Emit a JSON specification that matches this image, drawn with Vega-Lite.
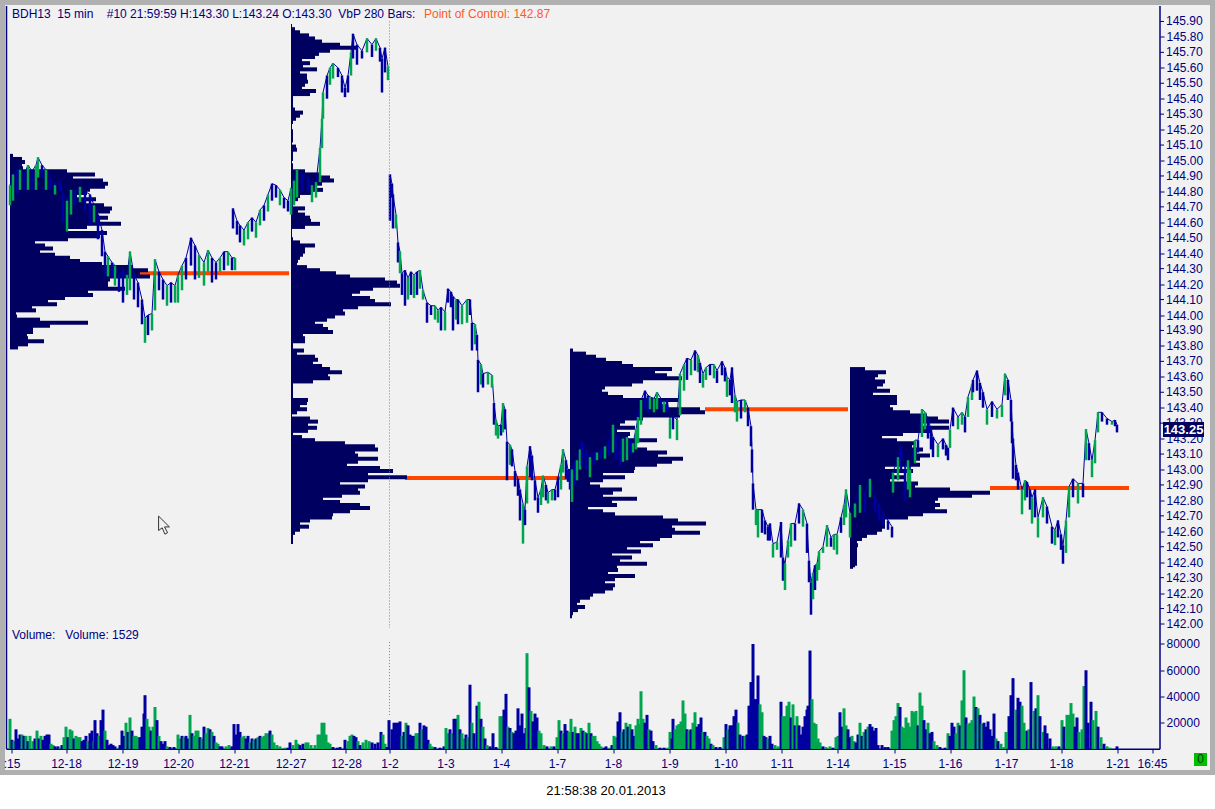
{
"$schema":"https://vega.github.io/schema/vega-lite/v6.json",
"width":1210,"height":770,"autosize":"none",
"padding":{"left":2.5,"top":2.5,"right":2.5,"bottom":36.5},
"background":"white",
"config":{"view":{"fill":"#f1f1f1","stroke":"#b0b0b0","strokeWidth":5},"text":{"font":"Liberation Sans","fontSize":12},"axis":{"labelOverlap":false}},
"datasets":{
"oddTicks":[{"p":142.1},{"p":142.3},{"p":142.5},{"p":142.7},{"p":142.9},{"p":143.1},{"p":143.3},{"p":143.5},{"p":143.7},{"p":143.9},{"p":144.1},{"p":144.3},{"p":144.5},{"p":144.7},{"p":144.9},{"p":145.1},{"p":145.3},{"p":145.5},{"p":145.7},{"p":145.9}],
"poc":[{"s":140,"e":289,"p":144.27},{"s":405,"e":568,"p":142.945},{"s":705,"e":848,"p":143.39},{"s":990,"e":1129,"p":142.88}],
"profile":[
{"s":10,"e":13,"p":145.03},{"s":10,"e":22,"p":145.01},{"s":10,"e":25,"p":144.99},{"s":10,"e":22,"p":144.97},{"s":10,"e":23,"p":144.95},{"s":10,"e":67,"p":144.93},{"s":10,"e":95,"p":144.91},{"s":10,"e":73,"p":144.89},{"s":10,"e":103,"p":144.87},{"s":10,"e":108,"p":144.85},{"s":10,"e":105,"p":144.83},{"s":10,"e":90,"p":144.81},{"s":10,"e":87,"p":144.79},{"s":10,"e":77,"p":144.77},{"s":10,"e":96,"p":144.75},{"s":10,"e":85,"p":144.73},{"s":10,"e":104,"p":144.71},{"s":10,"e":112,"p":144.69},{"s":10,"e":110,"p":144.67},{"s":10,"e":98,"p":144.65},{"s":10,"e":108,"p":144.63},{"s":10,"e":100,"p":144.61},{"s":10,"e":121,"p":144.59},{"s":10,"e":87,"p":144.57},{"s":10,"e":68,"p":144.55},{"s":10,"e":107,"p":144.53},{"s":10,"e":100,"p":144.51},{"s":10,"e":68,"p":144.49},{"s":10,"e":35,"p":144.47},{"s":10,"e":45,"p":144.45},{"s":10,"e":53,"p":144.43},{"s":10,"e":40,"p":144.41},{"s":10,"e":55,"p":144.39},{"s":10,"e":70,"p":144.37},{"s":10,"e":80,"p":144.35},{"s":10,"e":102,"p":144.33},{"s":10,"e":133,"p":144.31},{"s":10,"e":148,"p":144.29},{"s":10,"e":140,"p":144.27},{"s":10,"e":150,"p":144.25},{"s":10,"e":110,"p":144.23},{"s":10,"e":108,"p":144.21},{"s":10,"e":108,"p":144.19},{"s":10,"e":125,"p":144.17},{"s":10,"e":88,"p":144.15},{"s":10,"e":93,"p":144.13},{"s":10,"e":65,"p":144.11},{"s":10,"e":48,"p":144.09},{"s":10,"e":57,"p":144.07},{"s":10,"e":32,"p":144.05},{"s":10,"e":36,"p":144.03},{"s":10,"e":16,"p":144.01},{"s":10,"e":17,"p":143.99},{"s":10,"e":40,"p":143.97},{"s":10,"e":88,"p":143.95},{"s":10,"e":50,"p":143.93},{"s":10,"e":33,"p":143.91},{"s":10,"e":33,"p":143.89},{"s":10,"e":27,"p":143.87},{"s":10,"e":28,"p":143.85},{"s":10,"e":44,"p":143.83},{"s":10,"e":28,"p":143.81},{"s":10,"e":18,"p":143.79},
{"s":291,"e":292,"p":145.87},{"s":291,"e":295,"p":145.85},{"s":291,"e":300,"p":145.83},{"s":291,"e":309,"p":145.81},{"s":291,"e":315,"p":145.79},{"s":291,"e":322,"p":145.77},{"s":291,"e":340,"p":145.75},{"s":291,"e":357,"p":145.73},{"s":291,"e":330,"p":145.71},{"s":291,"e":319,"p":145.69},{"s":291,"e":315,"p":145.67},{"s":291,"e":302,"p":145.65},{"s":291,"e":310,"p":145.63},{"s":291,"e":303,"p":145.61},{"s":291,"e":317,"p":145.59},{"s":291,"e":300,"p":145.57},{"s":291,"e":307,"p":145.55},{"s":291,"e":307,"p":145.53},{"s":291,"e":308,"p":145.51},{"s":291,"e":305,"p":145.49},{"s":291,"e":302,"p":145.47},{"s":291,"e":316,"p":145.45},{"s":291,"e":310,"p":145.43},{"s":291,"e":293,"p":145.41},{"s":291,"e":293,"p":145.39},{"s":291,"e":293,"p":145.37},{"s":291,"e":293,"p":145.35},{"s":291,"e":295,"p":145.33},{"s":291,"e":303,"p":145.31},{"s":291,"e":300,"p":145.29},{"s":291,"e":296,"p":145.27},{"s":291,"e":293,"p":145.25},{"s":291,"e":292,"p":145.23},{"s":291,"e":292,"p":145.21},{"s":291,"e":293,"p":145.19},{"s":291,"e":293,"p":145.17},{"s":291,"e":293,"p":145.15},{"s":291,"e":293,"p":145.13},{"s":291,"e":292,"p":145.11},{"s":291,"e":296,"p":145.09},{"s":291,"e":297,"p":145.07},{"s":291,"e":293,"p":145.05},{"s":291,"e":293,"p":145.03},{"s":291,"e":293,"p":145.01},{"s":291,"e":292,"p":144.99},{"s":291,"e":293,"p":144.97},{"s":291,"e":293,"p":144.95},{"s":291,"e":305,"p":144.93},{"s":291,"e":320,"p":144.91},{"s":291,"e":330,"p":144.89},{"s":291,"e":334,"p":144.87},{"s":291,"e":322,"p":144.85},{"s":291,"e":315,"p":144.83},{"s":291,"e":323,"p":144.81},{"s":291,"e":312,"p":144.79},{"s":291,"e":300,"p":144.77},{"s":291,"e":298,"p":144.75},{"s":291,"e":293,"p":144.73},{"s":291,"e":293,"p":144.71},{"s":291,"e":305,"p":144.69},{"s":291,"e":298,"p":144.67},{"s":291,"e":305,"p":144.65},{"s":291,"e":310,"p":144.63},{"s":291,"e":311,"p":144.61},{"s":291,"e":320,"p":144.59},{"s":291,"e":305,"p":144.57},{"s":291,"e":292,"p":144.55},{"s":291,"e":292,"p":144.53},{"s":291,"e":292,"p":144.51},{"s":291,"e":293,"p":144.49},{"s":291,"e":300,"p":144.47},{"s":291,"e":315,"p":144.45},{"s":291,"e":305,"p":144.43},{"s":291,"e":305,"p":144.41},{"s":291,"e":303,"p":144.39},{"s":291,"e":300,"p":144.37},{"s":291,"e":298,"p":144.35},{"s":291,"e":297,"p":144.33},{"s":291,"e":307,"p":144.31},{"s":291,"e":320,"p":144.29},{"s":291,"e":336,"p":144.27},{"s":291,"e":350,"p":144.25},{"s":291,"e":385,"p":144.23},{"s":291,"e":397,"p":144.21},
{"s":291,"e":400,"p":144.19},{"s":291,"e":373,"p":144.17},{"s":291,"e":360,"p":144.15},{"s":291,"e":352,"p":144.13},{"s":291,"e":370,"p":144.11},{"s":291,"e":375,"p":144.09},{"s":291,"e":391,"p":144.07},{"s":291,"e":358,"p":144.05},{"s":291,"e":343,"p":144.03},{"s":291,"e":345,"p":144.01},{"s":291,"e":335,"p":143.99},{"s":291,"e":327,"p":143.97},{"s":291,"e":315,"p":143.95},{"s":291,"e":323,"p":143.93},{"s":291,"e":328,"p":143.91},{"s":291,"e":333,"p":143.89},{"s":291,"e":303,"p":143.87},{"s":291,"e":305,"p":143.85},{"s":291,"e":305,"p":143.83},{"s":291,"e":293,"p":143.81},{"s":291,"e":293,"p":143.79},{"s":291,"e":304,"p":143.77},{"s":291,"e":297,"p":143.75},{"s":291,"e":315,"p":143.73},{"s":291,"e":318,"p":143.71},{"s":291,"e":313,"p":143.69},{"s":291,"e":322,"p":143.67},{"s":291,"e":330,"p":143.65},{"s":291,"e":342,"p":143.63},{"s":291,"e":328,"p":143.61},{"s":291,"e":330,"p":143.59},{"s":291,"e":313,"p":143.57},{"s":291,"e":293,"p":143.55},{"s":291,"e":293,"p":143.53},{"s":291,"e":293,"p":143.51},{"s":291,"e":293,"p":143.49},{"s":291,"e":293,"p":143.47},{"s":291,"e":308,"p":143.45},{"s":291,"e":307,"p":143.43},{"s":291,"e":300,"p":143.41},{"s":291,"e":307,"p":143.39},{"s":291,"e":297,"p":143.37},{"s":291,"e":292,"p":143.35},{"s":291,"e":310,"p":143.33},{"s":291,"e":318,"p":143.31},{"s":291,"e":308,"p":143.29},{"s":291,"e":317,"p":143.27},{"s":291,"e":308,"p":143.25},{"s":291,"e":293,"p":143.23},{"s":291,"e":302,"p":143.21},{"s":291,"e":315,"p":143.19},{"s":291,"e":345,"p":143.17},{"s":291,"e":375,"p":143.15},{"s":291,"e":378,"p":143.13},{"s":291,"e":355,"p":143.11},{"s":291,"e":358,"p":143.09},{"s":291,"e":378,"p":143.07},{"s":291,"e":358,"p":143.05},{"s":291,"e":347,"p":143.03},{"s":291,"e":380,"p":143.01},{"s":291,"e":393,"p":142.99},{"s":291,"e":368,"p":142.97},{"s":291,"e":407,"p":142.95},{"s":291,"e":368,"p":142.93},{"s":291,"e":340,"p":142.91},{"s":291,"e":365,"p":142.89},{"s":291,"e":358,"p":142.87},{"s":291,"e":360,"p":142.85},{"s":291,"e":342,"p":142.83},{"s":291,"e":323,"p":142.81},{"s":291,"e":340,"p":142.79},{"s":291,"e":360,"p":142.77},{"s":291,"e":370,"p":142.75},{"s":291,"e":350,"p":142.73},{"s":291,"e":333,"p":142.71},{"s":291,"e":332,"p":142.69},{"s":291,"e":310,"p":142.67},{"s":291,"e":300,"p":142.65},{"s":291,"e":309,"p":142.63},{"s":291,"e":300,"p":142.61},{"s":291,"e":295,"p":142.59},{"s":291,"e":293,"p":142.57},{"s":291,"e":293,"p":142.55},{"s":291,"e":293,"p":142.53},
{"s":570,"e":573,"p":143.77},{"s":570,"e":586,"p":143.75},{"s":570,"e":596,"p":143.73},{"s":570,"e":606,"p":143.71},{"s":570,"e":622,"p":143.69},{"s":570,"e":633,"p":143.67},{"s":570,"e":672,"p":143.65},{"s":570,"e":655,"p":143.63},{"s":570,"e":667,"p":143.61},{"s":570,"e":682,"p":143.59},{"s":570,"e":643,"p":143.57},{"s":570,"e":632,"p":143.55},{"s":570,"e":605,"p":143.53},{"s":570,"e":602,"p":143.51},{"s":570,"e":608,"p":143.49},{"s":570,"e":623,"p":143.47},{"s":570,"e":678,"p":143.45},{"s":570,"e":660,"p":143.43},{"s":570,"e":667,"p":143.41},{"s":570,"e":700,"p":143.39},{"s":570,"e":705,"p":143.37},{"s":570,"e":680,"p":143.35},{"s":570,"e":643,"p":143.33},{"s":570,"e":625,"p":143.31},{"s":570,"e":620,"p":143.29},{"s":570,"e":635,"p":143.27},{"s":570,"e":617,"p":143.25},{"s":570,"e":630,"p":143.23},{"s":570,"e":628,"p":143.21},{"s":570,"e":657,"p":143.19},{"s":570,"e":637,"p":143.17},{"s":570,"e":635,"p":143.15},{"s":570,"e":647,"p":143.13},{"s":570,"e":667,"p":143.11},{"s":570,"e":658,"p":143.09},{"s":570,"e":683,"p":143.07},{"s":570,"e":672,"p":143.05},{"s":570,"e":657,"p":143.03},{"s":570,"e":635,"p":143.01},{"s":570,"e":634,"p":142.99},{"s":570,"e":603,"p":142.97},{"s":570,"e":625,"p":142.95},{"s":570,"e":603,"p":142.93},{"s":570,"e":590,"p":142.91},{"s":570,"e":600,"p":142.89},{"s":570,"e":622,"p":142.87},{"s":570,"e":613,"p":142.85},{"s":570,"e":603,"p":142.83},{"s":570,"e":637,"p":142.81},{"s":570,"e":612,"p":142.79},{"s":570,"e":617,"p":142.77},{"s":570,"e":588,"p":142.75},{"s":570,"e":603,"p":142.73},{"s":570,"e":615,"p":142.71},{"s":570,"e":663,"p":142.69},{"s":570,"e":678,"p":142.67},{"s":570,"e":706,"p":142.65},{"s":570,"e":672,"p":142.63},{"s":570,"e":675,"p":142.61},{"s":570,"e":700,"p":142.59},{"s":570,"e":672,"p":142.57},{"s":570,"e":660,"p":142.55},{"s":570,"e":640,"p":142.53},{"s":570,"e":653,"p":142.51},{"s":570,"e":627,"p":142.49},{"s":570,"e":641,"p":142.47},{"s":570,"e":612,"p":142.45},
{"s":570,"e":632,"p":142.43},{"s":570,"e":620,"p":142.41},{"s":570,"e":647,"p":142.39},{"s":570,"e":617,"p":142.37},{"s":570,"e":618,"p":142.35},{"s":570,"e":608,"p":142.33},{"s":570,"e":635,"p":142.31},{"s":570,"e":615,"p":142.29},{"s":570,"e":605,"p":142.27},{"s":570,"e":615,"p":142.25},{"s":570,"e":613,"p":142.23},{"s":570,"e":605,"p":142.21},{"s":570,"e":593,"p":142.19},{"s":570,"e":590,"p":142.17},{"s":570,"e":580,"p":142.15},{"s":570,"e":577,"p":142.13},{"s":570,"e":585,"p":142.11},{"s":570,"e":578,"p":142.09},{"s":570,"e":573,"p":142.07},{"s":570,"e":572,"p":142.05},
{"s":850,"e":865,"p":143.65},{"s":850,"e":886,"p":143.63},{"s":850,"e":878,"p":143.61},{"s":850,"e":875,"p":143.59},{"s":850,"e":885,"p":143.57},{"s":850,"e":883,"p":143.55},{"s":850,"e":877,"p":143.53},{"s":850,"e":890,"p":143.51},{"s":850,"e":873,"p":143.49},{"s":850,"e":897,"p":143.47},{"s":850,"e":897,"p":143.45},{"s":850,"e":897,"p":143.43},{"s":850,"e":890,"p":143.41},{"s":850,"e":893,"p":143.39},{"s":850,"e":910,"p":143.37},{"s":850,"e":927,"p":143.35},{"s":850,"e":938,"p":143.33},{"s":850,"e":949,"p":143.31},{"s":850,"e":923,"p":143.29},{"s":850,"e":949,"p":143.27},{"s":850,"e":930,"p":143.25},{"s":850,"e":903,"p":143.23},{"s":850,"e":882,"p":143.21},{"s":850,"e":897,"p":143.19},{"s":850,"e":915,"p":143.17},{"s":850,"e":912,"p":143.15},{"s":850,"e":923,"p":143.13},{"s":850,"e":917,"p":143.11},{"s":850,"e":930,"p":143.09},{"s":850,"e":920,"p":143.07},{"s":850,"e":915,"p":143.05},{"s":850,"e":920,"p":143.03},{"s":850,"e":885,"p":143.01},{"s":850,"e":913,"p":142.99},{"s":850,"e":893,"p":142.97},{"s":850,"e":905,"p":142.95},{"s":850,"e":890,"p":142.93},{"s":850,"e":918,"p":142.91},{"s":850,"e":915,"p":142.89},{"s":850,"e":950,"p":142.87},{"s":850,"e":990,"p":142.85},{"s":850,"e":972,"p":142.83},{"s":850,"e":938,"p":142.81},{"s":850,"e":935,"p":142.79},{"s":850,"e":940,"p":142.77},{"s":850,"e":935,"p":142.75},{"s":850,"e":947,"p":142.73},{"s":850,"e":923,"p":142.71},{"s":850,"e":908,"p":142.69},{"s":850,"e":885,"p":142.67},{"s":850,"e":885,"p":142.65},{"s":850,"e":885,"p":142.63},{"s":850,"e":882,"p":142.61},{"s":850,"e":877,"p":142.59},{"s":850,"e":867,"p":142.57},{"s":850,"e":862,"p":142.55},{"s":850,"e":857,"p":142.53},{"s":850,"e":858,"p":142.51},{"s":850,"e":857,"p":142.49},{"s":850,"e":857,"p":142.47},{"s":850,"e":857,"p":142.45},{"s":850,"e":857,"p":142.43},{"s":850,"e":857,"p":142.41},{"s":850,"e":857,"p":142.39},{"s":850,"e":855,"p":142.38},{"s":850,"e":853,"p":142.37}
],
"price":[
{"x":10,"h":144.84,"l":144.71,"c":"g","s":1},{"x":13,"h":144.91,"l":144.74,"c":"g","s":1},{"x":17,"h":144.94,"l":144.78,"c":"b","s":1},{"x":20,"h":144.94,"l":144.81,"c":"g","s":1},{"x":24,"h":144.91,"l":144.81,"c":"b","s":1},{"x":28,"h":144.97,"l":144.81,"c":"g","s":1},{"x":32,"h":144.93,"l":144.81,"c":"b","s":1},{"x":36,"h":144.97,"l":144.81,"c":"g","s":1},{"x":38,"h":145.02,"l":144.89,"c":"g","s":1},{"x":42,"h":144.97,"l":144.89,"c":"b","s":1},{"x":46,"h":144.94,"l":144.81,"c":"g","s":1},{"x":50,"h":144.89,"l":144.81,"c":"b","s":1},{"x":55,"h":144.84,"l":144.78,"c":"g","s":1},{"x":60,"h":144.87,"l":144.8,"c":"b","s":1},{"x":63,"h":144.78,"l":144.6,"c":"b","s":1},{"x":67,"h":144.74,"l":144.54,"c":"g","s":1},{"x":71,"h":144.81,"l":144.65,"c":"g","s":1},{"x":75,"h":144.8,"l":144.71,"c":"b","s":1},{"x":80,"h":144.83,"l":144.73,"c":"g","s":1},{"x":85,"h":144.8,"l":144.67,"c":"b","s":1},{"x":90,"h":144.78,"l":144.58,"c":"b","s":1},{"x":94,"h":144.71,"l":144.6,"c":"g","s":1},{"x":98,"h":144.65,"l":144.49,"c":"b","s":1},{"x":102,"h":144.55,"l":144.38,"c":"b","s":1},{"x":105,"h":144.41,"l":144.26,"c":"b","s":1},{"x":108,"h":144.38,"l":144.25,"c":"g","s":1},{"x":112,"h":144.34,"l":144.24,"c":"b","s":1},{"x":115,"h":144.32,"l":144.19,"c":"g","s":1},{"x":119,"h":144.26,"l":144.15,"c":"b","s":1},{"x":123,"h":144.29,"l":144.08,"c":"b","s":1},{"x":127,"h":144.26,"l":144.13,"c":"g","s":1},{"x":130,"h":144.41,"l":144.16,"c":"g","s":1},{"x":134,"h":144.26,"l":144.1,"c":"b","s":1},{"x":138,"h":144.21,"l":144.05,"c":"b","s":1},{"x":142,"h":144.1,"l":143.94,"c":"b","s":1},{"x":145,"h":143.98,"l":143.82,"c":"g","s":1},{"x":148,"h":144,"l":143.87,"c":"b","s":1},{"x":152,"h":144.01,"l":143.9,"c":"g","s":1},{"x":155,"h":144.36,"l":144.03,"c":"g","s":1},{"x":159,"h":144.28,"l":144.16,"c":"b","s":1},{"x":163,"h":144.23,"l":144.1,"c":"b","s":1},{"x":167,"h":144.19,"l":144.06,"c":"g","s":1},{"x":171,"h":144.21,"l":144.08,"c":"b","s":1},{"x":175,"h":144.19,"l":144.08,"c":"g","s":1},{"x":178,"h":144.26,"l":144.08,"c":"g","s":1},{"x":182,"h":144.32,"l":144.16,"c":"g","s":1},{"x":186,"h":144.37,"l":144.23,"c":"b","s":1},{"x":191,"h":144.5,"l":144.32,"c":"b","s":1},{"x":195,"h":144.45,"l":144.23,"c":"b","s":1},{"x":199,"h":144.39,"l":144.24,"c":"g","s":1},{"x":204,"h":144.34,"l":144.19,"c":"g","s":1},{"x":208,"h":144.42,"l":144.28,"c":"g","s":1},{"x":212,"h":144.37,"l":144.21,"c":"b","s":1},{"x":216,"h":144.34,"l":144.23,"c":"b","s":1},{"x":220,"h":144.37,"l":144.28,"c":"g","s":1},{"x":224,"h":144.41,"l":144.29,"c":"b","s":1},{"x":228,"h":144.41,"l":144.32,"c":"g","s":1},{"x":232,"h":144.37,"l":144.29,"c":"b","s":1},{"x":235,"h":144.37,"l":144.29,"c":"g","s":1},
{"x":233,"h":144.69,"l":144.56,"c":"b","s":2},{"x":237,"h":144.61,"l":144.52,"c":"b","s":2},{"x":240,"h":144.58,"l":144.47,"c":"b","s":2},{"x":244,"h":144.55,"l":144.45,"c":"g","s":2},{"x":248,"h":144.6,"l":144.49,"c":"g","s":2},{"x":252,"h":144.63,"l":144.54,"c":"b","s":2},{"x":256,"h":144.6,"l":144.5,"c":"g","s":2},{"x":260,"h":144.68,"l":144.58,"c":"g","s":2},{"x":264,"h":144.71,"l":144.61,"c":"b","s":2},{"x":268,"h":144.78,"l":144.67,"c":"g","s":2},{"x":272,"h":144.85,"l":144.74,"c":"b","s":2},{"x":276,"h":144.84,"l":144.76,"c":"b","s":2},{"x":280,"h":144.81,"l":144.71,"c":"g","s":2},{"x":284,"h":144.76,"l":144.69,"c":"b","s":2},{"x":288,"h":144.74,"l":144.67,"c":"b","s":2},{"x":291,"h":144.82,"l":144.65,"c":"g","s":2},{"x":294,"h":144.87,"l":144.71,"c":"g","s":2},{"x":297,"h":144.94,"l":144.76,"c":"g","s":2},{"x":302,"h":144.91,"l":144.8,"c":"b","s":2},{"x":308,"h":144.89,"l":144.8,"c":"b","s":2},{"x":312,"h":144.84,"l":144.73,"c":"g","s":2},{"x":316,"h":144.86,"l":144.76,"c":"g","s":2},{"x":320,"h":145.08,"l":144.86,"c":"g","s":2},{"x":322,"h":145.27,"l":145.08,"c":"g","s":2},{"x":323,"h":145.44,"l":145.27,"c":"g","s":2},{"x":327,"h":145.55,"l":145.4,"c":"b","s":2},{"x":330,"h":145.6,"l":145.49,"c":"g","s":2},{"x":333,"h":145.63,"l":145.53,"c":"g","s":2},{"x":338,"h":145.6,"l":145.54,"c":"b","s":2},{"x":342,"h":145.55,"l":145.44,"c":"b","s":2},{"x":345,"h":145.47,"l":145.41,"c":"b","s":2},{"x":348,"h":145.55,"l":145.44,"c":"b","s":2},{"x":351,"h":145.7,"l":145.55,"c":"g","s":2},{"x":353,"h":145.82,"l":145.66,"c":"b","s":2},{"x":357,"h":145.75,"l":145.62,"c":"b","s":2},{"x":362,"h":145.71,"l":145.66,"c":"b","s":2},{"x":367,"h":145.79,"l":145.7,"c":"g","s":2},{"x":372,"h":145.75,"l":145.67,"c":"b","s":2},{"x":376,"h":145.79,"l":145.71,"c":"g","s":2},{"x":380,"h":145.73,"l":145.64,"c":"b","s":2},{"x":382,"h":145.66,"l":145.44,"c":"b","s":2},{"x":385,"h":145.73,"l":145.57,"c":"b","s":2},{"x":388,"h":145.61,"l":145.52,"c":"g","s":2},
{"x":390,"h":144.91,"l":144.61,"c":"b","s":3},{"x":392,"h":144.85,"l":144.76,"c":"b","s":3},{"x":393,"h":144.78,"l":144.56,"c":"b","s":3},{"x":396,"h":144.65,"l":144.56,"c":"g","s":3},{"x":398,"h":144.47,"l":144.34,"c":"b","s":3},{"x":400,"h":144.41,"l":144.27,"c":"g","s":3},{"x":402,"h":144.27,"l":144.13,"c":"b","s":3},{"x":405,"h":144.29,"l":144.06,"c":"b","s":3},{"x":408,"h":144.24,"l":144.1,"c":"g","s":3},{"x":411,"h":144.28,"l":144.13,"c":"b","s":3},{"x":414,"h":144.26,"l":144.11,"c":"g","s":3},{"x":417,"h":144.28,"l":144.13,"c":"b","s":3},{"x":420,"h":144.29,"l":144.17,"c":"g","s":3},{"x":423,"h":144.16,"l":144.1,"c":"g","s":3},{"x":427,"h":144.08,"l":143.95,"c":"b","s":3},{"x":431,"h":144.06,"l":144,"c":"b","s":3},{"x":435,"h":144.06,"l":143.97,"c":"g","s":3},{"x":438,"h":144.03,"l":143.95,"c":"g","s":3},{"x":441,"h":144.05,"l":143.9,"c":"b","s":3},{"x":445,"h":144.02,"l":143.9,"c":"g","s":3},{"x":448,"h":144.17,"l":144.08,"c":"b","s":3},{"x":451,"h":144.15,"l":144.05,"c":"b","s":3},{"x":453,"h":144.12,"l":143.9,"c":"b","s":3},{"x":456,"h":144.1,"l":143.97,"c":"g","s":3},{"x":458,"h":144.1,"l":143.94,"c":"b","s":3},{"x":462,"h":144.06,"l":143.94,"c":"g","s":3},{"x":467,"h":144.1,"l":143.95,"c":"g","s":3},{"x":470,"h":144.1,"l":144,"c":"b","s":3},{"x":472,"h":143.95,"l":143.77,"c":"b","s":3},{"x":475,"h":143.94,"l":143.81,"c":"g","s":3},{"x":477,"h":143.87,"l":143.77,"c":"b","s":3},{"x":478,"h":143.71,"l":143.5,"c":"b","s":3},{"x":481,"h":143.68,"l":143.55,"c":"g","s":3},{"x":483,"h":143.62,"l":143.53,"c":"b","s":3},{"x":488,"h":143.63,"l":143.55,"c":"g","s":3},{"x":492,"h":143.61,"l":143.53,"c":"g","s":3},{"x":494,"h":143.43,"l":143.29,"c":"b","s":3},{"x":496,"h":143.32,"l":143.22,"c":"g","s":3},{"x":498,"h":143.28,"l":143.2,"c":"g","s":3},{"x":501,"h":143.29,"l":143.22,"c":"b","s":3},{"x":503,"h":143.43,"l":143.24,"c":"g","s":3},{"x":505,"h":143.39,"l":143.26,"c":"b","s":3},{"x":507,"h":143.18,"l":142.93,"c":"b","s":3},{"x":510,"h":143.16,"l":143.03,"c":"g","s":3},{"x":512,"h":143.13,"l":143.02,"c":"b","s":3},{"x":515,"h":142.99,"l":142.89,"c":"b","s":3},{"x":518,"h":142.94,"l":142.83,"c":"b","s":3},{"x":520,"h":142.87,"l":142.67,"c":"b","s":3},{"x":523,"h":142.78,"l":142.52,"c":"g","s":3},{"x":525,"h":142.74,"l":142.64,"c":"b","s":3},{"x":527,"h":143.02,"l":142.78,"c":"g","s":3},{"x":530,"h":143.15,"l":142.95,"c":"b","s":3},{"x":532,"h":143.09,"l":142.93,"c":"b","s":3},{"x":535,"h":142.93,"l":142.8,"c":"b","s":3},{"x":538,"h":142.82,"l":142.72,"c":"b","s":3},{"x":541,"h":142.87,"l":142.77,"c":"g","s":3},{"x":543,"h":142.96,"l":142.82,"c":"g","s":3},{"x":546,"h":142.9,"l":142.8,"c":"b","s":3},{"x":548,"h":142.85,"l":142.78,"c":"g","s":3},{"x":552,"h":142.87,"l":142.8,"c":"g","s":3},{"x":555,"h":142.87,"l":142.8,"c":"b","s":3},{"x":558,"h":142.95,"l":142.82,"c":"b","s":3},{"x":561,"h":143.03,"l":142.87,"c":"g","s":3},{"x":563,"h":143.13,"l":142.98,"c":"g","s":3},{"x":566,"h":143.06,"l":142.94,"c":"b","s":3},{"x":568,"h":143,"l":142.92,"c":"b","s":3},{"x":570,"h":143,"l":142.87,"c":"b","s":3},{"x":572,"h":143,"l":142.79,"c":"g","s":3},{"x":575,"h":143.05,"l":142.9,"c":"b","s":3},{"x":577,"h":143.06,"l":142.93,"c":"g","s":3},{"x":580,"h":143.13,"l":143,"c":"g","s":3},{"x":582,"h":143.18,"l":143.02,"c":"b","s":3},{"x":586,"h":143.13,"l":143,"c":"b","s":3},{"x":590,"h":143.08,"l":142.95,"c":"g","s":3},{"x":594,"h":143.11,"l":143.03,"c":"b","s":3},{"x":597,"h":143.11,"l":143.06,"c":"g","s":3},{"x":601,"h":143.13,"l":143.07,"c":"b","s":3},{"x":605,"h":143.15,"l":143.07,"c":"g","s":3},{"x":609,"h":143.19,"l":143.09,"c":"b","s":3},{"x":613,"h":143.29,"l":143.11,"c":"g","s":3},{"x":616,"h":143.22,"l":143.06,"c":"b","s":3},{"x":620,"h":143.19,"l":143.02,"c":"b","s":3},{"x":623,"h":143.2,"l":143.05,"c":"g","s":3},{"x":627,"h":143.21,"l":143.06,"c":"g","s":3},{"x":630,"h":143.19,"l":143.09,"c":"b","s":3},{"x":633,"h":143.17,"l":143.11,"c":"g","s":3},{"x":636,"h":143.26,"l":143.13,"c":"g","s":3},{"x":638,"h":143.34,"l":143.17,"c":"g","s":3},{"x":641,"h":143.45,"l":143.29,"c":"g","s":3},{"x":645,"h":143.51,"l":143.39,"c":"b","s":3},{"x":648,"h":143.48,"l":143.37,"c":"b","s":3},{"x":650,"h":143.47,"l":143.39,"c":"g","s":3},{"x":654,"h":143.46,"l":143.37,"c":"g","s":3},{"x":657,"h":143.5,"l":143.39,"c":"g","s":3},{"x":661,"h":143.46,"l":143.39,"c":"b","s":3},{"x":664,"h":143.44,"l":143.37,"c":"g","s":3},{"x":667,"h":143.45,"l":143.37,"c":"b","s":3},{"x":670,"h":143.33,"l":143.2,"c":"g","s":3},{"x":673,"h":143.35,"l":143.26,"c":"b","s":3},{"x":677,"h":143.32,"l":143.19,"c":"g","s":3},{"x":680,"h":143.62,"l":143.35,"c":"g","s":3},{"x":684,"h":143.68,"l":143.51,"c":"g","s":3},{"x":687,"h":143.72,"l":143.58,"c":"b","s":3},{"x":691,"h":143.71,"l":143.61,"c":"g","s":3},{"x":695,"h":143.77,"l":143.64,"c":"b","s":3},{"x":698,"h":143.74,"l":143.63,"c":"g","s":3},{"x":700,"h":143.69,"l":143.56,"c":"b","s":3},{"x":703,"h":143.62,"l":143.53,"c":"g","s":3},{"x":706,"h":143.66,"l":143.58,"c":"g","s":3},{"x":710,"h":143.68,"l":143.61,"c":"b","s":3},{"x":714,"h":143.68,"l":143.59,"c":"g","s":3},{"x":717,"h":143.64,"l":143.56,"c":"b","s":3},{"x":722,"h":143.7,"l":143.61,"c":"b","s":3},{"x":725,"h":143.66,"l":143.57,"c":"b","s":3},{"x":727,"h":143.6,"l":143.47,"c":"g","s":3},{"x":730,"h":143.58,"l":143.48,"c":"b","s":3},{"x":732,"h":143.66,"l":143.43,"c":"b","s":3},{"x":735,"h":143.48,"l":143.37,"c":"g","s":3},{"x":737,"h":143.44,"l":143.31,"c":"g","s":3},{"x":741,"h":143.45,"l":143.33,"c":"b","s":3},{"x":745,"h":143.45,"l":143.37,"c":"g","s":3},{"x":748,"h":143.4,"l":143.28,"c":"b","s":3},{"x":751,"h":143.28,"l":143.15,"c":"b","s":3},{"x":752,"h":143.13,"l":142.98,"c":"b","s":3},{"x":753,"h":142.91,"l":142.74,"c":"b","s":3},{"x":756,"h":142.74,"l":142.64,"c":"g","s":3},{"x":758,"h":142.74,"l":142.56,"c":"g","s":3},{"x":762,"h":142.74,"l":142.59,"c":"b","s":3},{"x":765,"h":142.67,"l":142.58,"c":"b","s":3},{"x":768,"h":142.63,"l":142.54,"c":"b","s":3},{"x":770,"h":142.65,"l":142.54,"c":"b","s":3},{"x":773,"h":142.52,"l":142.43,"c":"g","s":3},{"x":777,"h":142.53,"l":142.48,"c":"g","s":3},{"x":781,"h":142.66,"l":142.43,"c":"b","s":3},{"x":783,"h":142.43,"l":142.28,"c":"b","s":3},{"x":785,"h":142.39,"l":142.22,"c":"g","s":3},{"x":788,"h":142.54,"l":142.43,"c":"g","s":3},{"x":791,"h":142.65,"l":142.5,"c":"g","s":3},{"x":795,"h":142.65,"l":142.54,"c":"b","s":3},{"x":799,"h":142.78,"l":142.65,"c":"b","s":3},{"x":803,"h":142.74,"l":142.63,"c":"g","s":3},{"x":807,"h":142.65,"l":142.46,"c":"b","s":3},{"x":809,"h":142.41,"l":142.27,"c":"b","s":3},{"x":811,"h":142.27,"l":142.06,"c":"b","s":3},{"x":813,"h":142.33,"l":142.16,"c":"g","s":3},{"x":815,"h":142.38,"l":142.22,"c":"b","s":3},{"x":817,"h":142.39,"l":142.28,"c":"g","s":3},{"x":819,"h":142.47,"l":142.35,"c":"g","s":3},{"x":823,"h":142.5,"l":142.46,"c":"g","s":3},{"x":827,"h":142.64,"l":142.5,"c":"g","s":3},{"x":831,"h":142.56,"l":142.5,"c":"b","s":3},{"x":834,"h":142.58,"l":142.48,"c":"g","s":3},{"x":837,"h":142.58,"l":142.45,"c":"g","s":3},{"x":841,"h":142.69,"l":142.59,"c":"b","s":3},{"x":844,"h":142.77,"l":142.64,"c":"g","s":3},{"x":846,"h":142.87,"l":142.69,"c":"g","s":3},{"x":850,"h":142.72,"l":142.56,"c":"g","s":3},{"x":855,"h":142.78,"l":142.69,"c":"g","s":3},{"x":860,"h":142.9,"l":142.72,"c":"g","s":3},{"x":865,"h":142.85,"l":142.72,"c":"b","s":3},{"x":870,"h":142.94,"l":142.82,"c":"g","s":3},{"x":875,"h":142.82,"l":142.72,"c":"b","s":3},{"x":879,"h":142.77,"l":142.67,"c":"b","s":3},{"x":883,"h":142.72,"l":142.64,"c":"b","s":3},{"x":888,"h":142.67,"l":142.61,"c":"b","s":3},{"x":892,"h":142.63,"l":142.56,"c":"b","s":3},
{"x":893,"h":142.98,"l":142.85,"c":"g","s":4},{"x":898,"h":143.08,"l":142.93,"c":"g","s":4},{"x":901,"h":143.15,"l":143,"c":"b","s":4},{"x":905,"h":143,"l":142.8,"c":"b","s":4},{"x":908,"h":143.06,"l":142.87,"c":"g","s":4},{"x":910,"h":143,"l":142.82,"c":"g","s":4},{"x":915,"h":143.19,"l":143.04,"c":"g","s":4},{"x":918,"h":143.19,"l":143.11,"c":"b","s":4},{"x":922,"h":143.39,"l":143.21,"c":"g","s":4},{"x":925,"h":143.37,"l":143.26,"c":"g","s":4},{"x":928,"h":143.33,"l":143.2,"c":"b","s":4},{"x":931,"h":143.26,"l":143.13,"c":"b","s":4},{"x":933,"h":143.21,"l":143.08,"c":"b","s":4},{"x":938,"h":143.16,"l":143.08,"c":"g","s":4},{"x":943,"h":143.2,"l":143.13,"c":"b","s":4},{"x":946,"h":143.16,"l":143.09,"c":"b","s":4},{"x":948,"h":143.14,"l":143.06,"c":"b","s":4},
{"x":950,"h":143.26,"l":143.14,"c":"g","s":5},{"x":953,"h":143.4,"l":143.28,"c":"b","s":5},{"x":958,"h":143.34,"l":143.26,"c":"g","s":5},{"x":962,"h":143.37,"l":143.29,"c":"g","s":5},{"x":965,"h":143.34,"l":143.24,"c":"b","s":5},{"x":968,"h":143.47,"l":143.34,"c":"g","s":5},{"x":972,"h":143.55,"l":143.45,"c":"g","s":5},{"x":973,"h":143.58,"l":143.5,"c":"b","s":5},{"x":977,"h":143.64,"l":143.51,"c":"b","s":5},{"x":980,"h":143.56,"l":143.45,"c":"b","s":5},{"x":983,"h":143.5,"l":143.4,"c":"b","s":5},{"x":987,"h":143.39,"l":143.29,"c":"g","s":5},{"x":992,"h":143.44,"l":143.34,"c":"b","s":5},{"x":997,"h":143.39,"l":143.33,"c":"g","s":5},{"x":1002,"h":143.42,"l":143.34,"c":"g","s":5},{"x":1005,"h":143.62,"l":143.48,"c":"g","s":5},{"x":1008,"h":143.58,"l":143.45,"c":"b","s":5},{"x":1011,"h":143.45,"l":143.31,"c":"b","s":5},{"x":1012,"h":143.31,"l":143.17,"c":"b","s":5},{"x":1013,"h":143.2,"l":142.94,"c":"b","s":5},{"x":1016,"h":143.03,"l":142.93,"c":"b","s":5},{"x":1018,"h":142.98,"l":142.87,"c":"b","s":5},{"x":1022,"h":142.87,"l":142.71,"c":"g","s":5},{"x":1025,"h":142.93,"l":142.8,"c":"g","s":5},{"x":1027,"h":142.92,"l":142.82,"c":"b","s":5},{"x":1030,"h":142.87,"l":142.74,"c":"b","s":5},{"x":1032,"h":142.82,"l":142.65,"c":"g","s":5},{"x":1035,"h":142.87,"l":142.69,"c":"b","s":5},{"x":1038,"h":142.69,"l":142.56,"c":"g","s":5},{"x":1043,"h":142.82,"l":142.69,"c":"g","s":5},{"x":1047,"h":142.76,"l":142.65,"c":"b","s":5},{"x":1052,"h":142.63,"l":142.52,"c":"b","s":5},{"x":1055,"h":142.61,"l":142.51,"c":"g","s":5},{"x":1058,"h":142.67,"l":142.56,"c":"b","s":5},{"x":1061,"h":142.58,"l":142.48,"c":"b","s":5},{"x":1063,"h":142.51,"l":142.39,"c":"b","s":5},{"x":1066,"h":142.67,"l":142.46,"c":"g","s":5},{"x":1069,"h":142.89,"l":142.69,"c":"g","s":5},{"x":1073,"h":142.94,"l":142.82,"c":"b","s":5},{"x":1078,"h":142.91,"l":142.78,"c":"g","s":5},{"x":1083,"h":142.91,"l":142.82,"c":"b","s":5},{"x":1086,"h":143.26,"l":143.06,"c":"g","s":5},{"x":1089,"h":143.17,"l":143.06,"c":"b","s":5},{"x":1092,"h":143.06,"l":142.95,"c":"g","s":5},{"x":1095,"h":143.19,"l":143.04,"c":"g","s":5},{"x":1098,"h":143.37,"l":143.24,"c":"g","s":5},{"x":1102,"h":143.37,"l":143.31,"c":"b","s":5},{"x":1107,"h":143.33,"l":143.29,"c":"b","s":5},{"x":1112,"h":143.31,"l":143.29,"c":"g","s":5},{"x":1115,"h":143.32,"l":143.28,"c":"b","s":5},{"x":1117,"h":143.29,"l":143.24,"c":"b","s":5}
],
"volume":[
{"x":10,"v":23000,"c":"g"},{"x":12,"v":7000,"c":"b"},{"x":14,"v":6000,"c":"g"},{"x":16,"v":15000,"c":"b"},{"x":18,"v":8000,"c":"b"},{"x":20,"v":11000,"c":"b"},{"x":22,"v":11000,"c":"g"},{"x":24,"v":10000,"c":"b"},{"x":26,"v":10000,"c":"g"},{"x":28,"v":6000,"c":"b"},{"x":30,"v":10000,"c":"g"},{"x":33,"v":6000,"c":"g"},{"x":35,"v":8000,"c":"b"},{"x":37,"v":14000,"c":"g"},{"x":39,"v":8000,"c":"b"},{"x":41,"v":10000,"c":"g"},{"x":43,"v":7000,"c":"b"},{"x":45,"v":10000,"c":"b"},{"x":47,"v":11000,"c":"b"},{"x":49,"v":11000,"c":"b"},{"x":51,"v":4000,"c":"g"},{"x":53,"v":3000,"c":"g"},{"x":55,"v":2000,"c":"b"},{"x":58,"v":2000,"c":"b"},{"x":60,"v":1000,"c":"g"},{"x":62,"v":3000,"c":"b"},{"x":64,"v":9000,"c":"g"},{"x":66,"v":17000,"c":"g"},{"x":68,"v":9000,"c":"b"},{"x":70,"v":15000,"c":"g"},{"x":72,"v":14000,"c":"g"},{"x":74,"v":8000,"c":"b"},{"x":76,"v":10000,"c":"g"},{"x":78,"v":9000,"c":"g"},{"x":80,"v":9000,"c":"g"},{"x":82,"v":6000,"c":"b"},{"x":84,"v":7000,"c":"b"},{"x":86,"v":10000,"c":"b"},{"x":88,"v":6000,"c":"g"},{"x":90,"v":12000,"c":"b"},{"x":92,"v":14000,"c":"b"},{"x":94,"v":6000,"c":"g"},{"x":95,"v":22000,"c":"b"},{"x":97,"v":12000,"c":"b"},{"x":99,"v":10000,"c":"g"},{"x":101,"v":22000,"c":"b"},{"x":103,"v":30000,"c":"b"},{"x":105,"v":14000,"c":"g"},{"x":107,"v":7000,"c":"b"},{"x":109,"v":3000,"c":"b"},{"x":111,"v":4000,"c":"b"},{"x":113,"v":3000,"c":"b"},{"x":115,"v":2000,"c":"b"},{"x":118,"v":1000,"c":"g"},{"x":120,"v":3000,"c":"b"},{"x":122,"v":14000,"c":"b"},{"x":124,"v":10000,"c":"b"},{"x":126,"v":20000,"c":"g"},{"x":128,"v":13000,"c":"b"},{"x":130,"v":24000,"c":"g"},{"x":132,"v":14000,"c":"b"},{"x":134,"v":10000,"c":"g"},{"x":136,"v":10000,"c":"g"},{"x":138,"v":9000,"c":"g"},{"x":140,"v":9000,"c":"b"},{"x":142,"v":17000,"c":"b"},{"x":144,"v":27000,"c":"b"},{"x":145,"v":41000,"c":"b"},{"x":147,"v":23000,"c":"g"},{"x":149,"v":17000,"c":"g"},{"x":151,"v":14000,"c":"b"},{"x":153,"v":17000,"c":"g"},{"x":155,"v":32000,"c":"g"},{"x":157,"v":22000,"c":"b"},{"x":159,"v":10000,"c":"g"},{"x":161,"v":6000,"c":"b"},{"x":163,"v":4000,"c":"b"},{"x":165,"v":6000,"c":"b"},{"x":167,"v":2000,"c":"g"},{"x":170,"v":1500,"c":"b"},{"x":174,"v":1500,"c":"b"},{"x":178,"v":11000,"c":"g"},{"x":180,"v":8000,"c":"g"},{"x":182,"v":10000,"c":"b"},{"x":184,"v":9000,"c":"g"},{"x":186,"v":10000,"c":"b"},{"x":188,"v":8000,"c":"b"},{"x":190,"v":26000,"c":"g"},{"x":192,"v":12000,"c":"b"},{"x":194,"v":10000,"c":"g"},{"x":196,"v":14000,"c":"g"},{"x":198,"v":14000,"c":"g"},{"x":200,"v":9000,"c":"b"},{"x":202,"v":8000,"c":"g"},{"x":204,"v":17000,"c":"b"},{"x":206,"v":12000,"c":"g"},{"x":208,"v":16000,"c":"g"},{"x":210,"v":15000,"c":"b"},{"x":212,"v":13000,"c":"g"},{"x":214,"v":10000,"c":"b"},{"x":216,"v":5000,"c":"g"},{"x":218,"v":4000,"c":"g"},{"x":220,"v":2000,"c":"b"},{"x":222,"v":2000,"c":"b"},{"x":226,"v":2000,"c":"g"},{"x":229,"v":3000,"c":"g"},{"x":232,"v":2000,"c":"b"},{"x":234,"v":19000,"c":"b"},{"x":236,"v":11000,"c":"b"},{"x":238,"v":19000,"c":"b"},{"x":240,"v":13000,"c":"b"},{"x":242,"v":9000,"c":"g"},{"x":244,"v":10000,"c":"g"},{"x":246,"v":8000,"c":"b"},{"x":248,"v":10000,"c":"b"},{"x":250,"v":5000,"c":"g"},{"x":252,"v":8000,"c":"b"},{"x":254,"v":7000,"c":"g"},{"x":256,"v":8000,"c":"b"},{"x":258,"v":9000,"c":"g"},{"x":260,"v":10000,"c":"b"},{"x":262,"v":9000,"c":"g"},{"x":264,"v":10000,"c":"g"},{"x":266,"v":12000,"c":"g"},{"x":268,"v":12000,"c":"g"},{"x":270,"v":14000,"c":"b"},{"x":272,"v":11000,"c":"g"},{"x":274,"v":5000,"c":"g"},{"x":277,"v":3000,"c":"g"},{"x":280,"v":2000,"c":"g"},{"x":285,"v":1000,"c":"g"},{"x":288,"v":1000,"c":"b"},{"x":290,"v":5000,"c":"b"},{"x":293,"v":3000,"c":"g"},{"x":296,"v":7000,"c":"g"},{"x":298,"v":4000,"c":"g"},{"x":300,"v":3000,"c":"b"},{"x":303,"v":4000,"c":"b"},{"x":306,"v":5000,"c":"g"},{"x":308,"v":5000,"c":"g"},{"x":311,"v":3000,"c":"g"},{"x":315,"v":3000,"c":"g"},{"x":318,"v":11000,"c":"g"},{"x":320,"v":11000,"c":"g"},{"x":322,"v":20000,"c":"g"},{"x":324,"v":20000,"c":"g"},{"x":326,"v":11000,"c":"g"},{"x":328,"v":5000,"c":"g"},{"x":330,"v":4000,"c":"g"},{"x":333,"v":1500,"c":"b"},{"x":337,"v":1000,"c":"b"},{"x":340,"v":1500,"c":"b"},{"x":345,"v":7000,"c":"b"},{"x":348,"v":6000,"c":"g"},{"x":350,"v":10000,"c":"g"},{"x":352,"v":11000,"c":"g"},{"x":354,"v":10000,"c":"b"},{"x":356,"v":9000,"c":"b"},{"x":358,"v":6000,"c":"g"},{"x":360,"v":3000,"c":"b"},{"x":363,"v":5000,"c":"g"},{"x":366,"v":7000,"c":"g"},{"x":369,"v":6000,"c":"g"},{"x":372,"v":5000,"c":"b"},{"x":375,"v":4000,"c":"b"},{"x":378,"v":5000,"c":"b"},{"x":381,"v":13000,"c":"b"},{"x":383,"v":11000,"c":"g"},{"x":385,"v":4000,"c":"g"},{"x":387,"v":1500,"c":"b"},{"x":389,"v":22000,"c":"b"},{"x":392,"v":15000,"c":"b"},{"x":394,"v":20000,"c":"b"},{"x":396,"v":20000,"c":"b"},{"x":398,"v":20000,"c":"b"},{"x":400,"v":21000,"c":"b"},{"x":402,"v":10000,"c":"g"},{"x":404,"v":13000,"c":"b"},{"x":406,"v":20000,"c":"g"},{"x":408,"v":18000,"c":"b"},{"x":410,"v":11000,"c":"b"},{"x":412,"v":10000,"c":"b"},{"x":414,"v":10000,"c":"b"},{"x":416,"v":12000,"c":"g"},{"x":418,"v":12000,"c":"g"},{"x":420,"v":20000,"c":"b"},{"x":422,"v":15000,"c":"g"},{"x":424,"v":18000,"c":"b"},{"x":426,"v":17000,"c":"b"},{"x":428,"v":7000,"c":"b"},{"x":430,"v":4000,"c":"g"},{"x":432,"v":2000,"c":"g"},{"x":435,"v":1500,"c":"b"},{"x":440,"v":1000,"c":"b"},{"x":444,"v":2000,"c":"b"},{"x":446,"v":16000,"c":"g"},{"x":448,"v":12000,"c":"g"},{"x":450,"v":15000,"c":"b"},{"x":452,"v":12000,"c":"g"},{"x":454,"v":23000,"c":"b"},{"x":456,"v":23000,"c":"b"},{"x":458,"v":26000,"c":"g"},{"x":460,"v":15000,"c":"b"},{"x":462,"v":12000,"c":"g"},{"x":464,"v":8000,"c":"g"},{"x":466,"v":11000,"c":"b"},{"x":468,"v":9000,"c":"g"},{"x":470,"v":49000,"c":"b"},{"x":472,"v":20000,"c":"g"},{"x":474,"v":12000,"c":"b"},{"x":477,"v":33000,"c":"b"},{"x":479,"v":36000,"c":"g"},{"x":481,"v":23000,"c":"b"},{"x":483,"v":17000,"c":"g"},{"x":485,"v":8000,"c":"b"},{"x":487,"v":3000,"c":"g"},{"x":490,"v":2000,"c":"b"},{"x":493,"v":12000,"c":"b"},{"x":496,"v":1500,"c":"b"},{"x":500,"v":25000,"c":"g"},{"x":502,"v":25000,"c":"g"},{"x":504,"v":30000,"c":"b"},{"x":506,"v":42000,"c":"b"},{"x":508,"v":17000,"c":"g"},{"x":510,"v":16000,"c":"b"},{"x":512,"v":13000,"c":"g"},{"x":514,"v":12000,"c":"b"},{"x":516,"v":14000,"c":"b"},{"x":518,"v":31000,"c":"b"},{"x":520,"v":18000,"c":"b"},{"x":522,"v":27000,"c":"b"},{"x":524,"v":12000,"c":"b"},{"x":526,"v":16000,"c":"b"},{"x":527,"v":73000,"c":"g"},{"x":529,"v":47000,"c":"b"},{"x":531,"v":29000,"c":"g"},{"x":533,"v":21000,"c":"b"},{"x":535,"v":27000,"c":"b"},{"x":537,"v":24000,"c":"b"},{"x":539,"v":14000,"c":"g"},{"x":541,"v":12000,"c":"g"},{"x":544,"v":3000,"c":"g"},{"x":547,"v":2000,"c":"b"},{"x":551,"v":2000,"c":"g"},{"x":554,"v":2000,"c":"b"},{"x":557,"v":9000,"c":"g"},{"x":559,"v":22000,"c":"g"},{"x":561,"v":14000,"c":"b"},{"x":563,"v":12000,"c":"g"},{"x":565,"v":19000,"c":"b"},{"x":567,"v":14000,"c":"b"},{"x":569,"v":13000,"c":"g"},{"x":571,"v":23000,"c":"g"},{"x":573,"v":13000,"c":"b"},{"x":575,"v":17000,"c":"g"},{"x":577,"v":12000,"c":"b"},{"x":579,"v":12000,"c":"b"},{"x":581,"v":16000,"c":"g"},{"x":583,"v":14000,"c":"b"},{"x":585,"v":13000,"c":"g"},{"x":587,"v":12000,"c":"b"},{"x":589,"v":20000,"c":"g"},{"x":591,"v":12000,"c":"b"},{"x":593,"v":10000,"c":"g"},{"x":595,"v":10000,"c":"g"},{"x":597,"v":6000,"c":"g"},{"x":599,"v":4000,"c":"g"},{"x":601,"v":2000,"c":"g"},{"x":604,"v":1000,"c":"b"},{"x":606,"v":2000,"c":"b"},{"x":610,"v":1000,"c":"g"},{"x":612,"v":3000,"c":"b"},{"x":614,"v":10000,"c":"g"},{"x":616,"v":9000,"c":"g"},{"x":618,"v":21000,"c":"b"},{"x":620,"v":28000,"c":"b"},{"x":622,"v":13000,"c":"g"},{"x":624,"v":15000,"c":"b"},{"x":626,"v":20000,"c":"g"},{"x":628,"v":17000,"c":"b"},{"x":630,"v":19000,"c":"g"},{"x":632,"v":15000,"c":"b"},{"x":634,"v":10000,"c":"b"},{"x":636,"v":18000,"c":"g"},{"x":638,"v":23000,"c":"g"},{"x":640,"v":19000,"c":"g"},{"x":641,"v":44000,"c":"g"},{"x":643,"v":23000,"c":"g"},{"x":645,"v":20000,"c":"b"},{"x":647,"v":26000,"c":"b"},{"x":649,"v":15000,"c":"g"},{"x":651,"v":14000,"c":"b"},{"x":653,"v":6000,"c":"b"},{"x":656,"v":3000,"c":"g"},{"x":660,"v":1000,"c":"b"},{"x":664,"v":1000,"c":"b"},{"x":668,"v":1000,"c":"g"},{"x":670,"v":13000,"c":"g"},{"x":672,"v":8000,"c":"b"},{"x":673,"v":23000,"c":"b"},{"x":675,"v":15000,"c":"g"},{"x":677,"v":18000,"c":"g"},{"x":679,"v":19000,"c":"g"},{"x":681,"v":21000,"c":"g"},{"x":683,"v":37000,"c":"g"},{"x":685,"v":27000,"c":"g"},{"x":687,"v":15000,"c":"b"},{"x":689,"v":14000,"c":"g"},{"x":691,"v":15000,"c":"b"},{"x":693,"v":20000,"c":"g"},{"x":695,"v":28000,"c":"g"},{"x":697,"v":17000,"c":"b"},{"x":699,"v":19000,"c":"b"},{"x":701,"v":24000,"c":"b"},{"x":703,"v":13000,"c":"g"},{"x":705,"v":13000,"c":"b"},{"x":707,"v":10000,"c":"g"},{"x":709,"v":8000,"c":"g"},{"x":711,"v":4000,"c":"b"},{"x":713,"v":3000,"c":"g"},{"x":716,"v":1500,"c":"b"},{"x":720,"v":1500,"c":"b"},{"x":724,"v":9000,"c":"g"},{"x":726,"v":19000,"c":"b"},{"x":728,"v":15000,"c":"g"},{"x":730,"v":18000,"c":"b"},{"x":732,"v":18000,"c":"b"},{"x":734,"v":25000,"c":"b"},{"x":736,"v":30000,"c":"b"},{"x":738,"v":20000,"c":"g"},{"x":740,"v":11000,"c":"b"},{"x":743,"v":10000,"c":"b"},{"x":745,"v":10000,"c":"g"},{"x":747,"v":11000,"c":"b"},{"x":749,"v":33000,"c":"b"},{"x":751,"v":51000,"c":"b"},{"x":753,"v":80000,"c":"b"},{"x":755,"v":38000,"c":"b"},{"x":757,"v":38000,"c":"b"},{"x":758,"v":56000,"c":"b"},{"x":760,"v":34000,"c":"g"},{"x":762,"v":28000,"c":"g"},{"x":764,"v":10000,"c":"b"},{"x":766,"v":9000,"c":"b"},{"x":768,"v":8000,"c":"g"},{"x":770,"v":10000,"c":"b"},{"x":772,"v":4000,"c":"b"},{"x":775,"v":3000,"c":"g"},{"x":778,"v":2000,"c":"g"},{"x":781,"v":36000,"c":"b"},{"x":783,"v":25000,"c":"g"},{"x":785,"v":25000,"c":"g"},{"x":787,"v":33000,"c":"g"},{"x":789,"v":36000,"c":"g"},{"x":791,"v":24000,"c":"b"},{"x":793,"v":34000,"c":"g"},{"x":795,"v":18000,"c":"b"},{"x":797,"v":25000,"c":"g"},{"x":799,"v":18000,"c":"b"},{"x":801,"v":11000,"c":"b"},{"x":803,"v":17000,"c":"b"},{"x":805,"v":25000,"c":"b"},{"x":807,"v":30000,"c":"b"},{"x":808,"v":33000,"c":"b"},{"x":810,"v":75000,"c":"b"},{"x":812,"v":38000,"c":"g"},{"x":814,"v":20000,"c":"g"},{"x":816,"v":19000,"c":"g"},{"x":818,"v":8000,"c":"g"},{"x":820,"v":5000,"c":"g"},{"x":823,"v":2000,"c":"b"},{"x":826,"v":1500,"c":"g"},{"x":830,"v":2000,"c":"g"},{"x":833,"v":1000,"c":"b"},{"x":836,"v":9000,"c":"g"},{"x":838,"v":10000,"c":"g"},{"x":840,"v":28000,"c":"b"},{"x":842,"v":17000,"c":"b"},{"x":844,"v":31000,"c":"g"},{"x":846,"v":18000,"c":"g"},{"x":848,"v":15000,"c":"b"},{"x":850,"v":9000,"c":"b"},{"x":852,"v":10000,"c":"g"},{"x":854,"v":6000,"c":"g"},{"x":856,"v":5000,"c":"b"},{"x":858,"v":11000,"c":"b"},{"x":860,"v":20000,"c":"g"},{"x":862,"v":10000,"c":"b"},{"x":864,"v":13000,"c":"g"},{"x":866,"v":15000,"c":"b"},{"x":868,"v":17000,"c":"g"},{"x":870,"v":19000,"c":"b"},{"x":872,"v":17000,"c":"b"},{"x":874,"v":14000,"c":"b"},{"x":876,"v":16000,"c":"b"},{"x":878,"v":3000,"c":"b"},{"x":882,"v":3000,"c":"b"},{"x":885,"v":1500,"c":"b"},{"x":888,"v":1500,"c":"b"},{"x":892,"v":14000,"c":"g"},{"x":894,"v":22000,"c":"g"},{"x":896,"v":25000,"c":"g"},{"x":898,"v":35000,"c":"g"},{"x":900,"v":32000,"c":"b"},{"x":902,"v":17000,"c":"g"},{"x":904,"v":16000,"c":"g"},{"x":906,"v":24000,"c":"g"},{"x":908,"v":20000,"c":"g"},{"x":910,"v":17000,"c":"g"},{"x":912,"v":29000,"c":"g"},{"x":914,"v":28000,"c":"g"},{"x":916,"v":29000,"c":"g"},{"x":918,"v":18000,"c":"b"},{"x":920,"v":43000,"c":"g"},{"x":922,"v":33000,"c":"g"},{"x":924,"v":22000,"c":"b"},{"x":926,"v":15000,"c":"b"},{"x":928,"v":20000,"c":"g"},{"x":930,"v":12000,"c":"b"},{"x":932,"v":13000,"c":"b"},{"x":934,"v":6000,"c":"g"},{"x":937,"v":3000,"c":"g"},{"x":940,"v":1500,"c":"b"},{"x":945,"v":1000,"c":"b"},{"x":948,"v":12000,"c":"g"},{"x":950,"v":10000,"c":"b"},{"x":952,"v":20000,"c":"b"},{"x":954,"v":17000,"c":"b"},{"x":956,"v":12000,"c":"g"},{"x":958,"v":20000,"c":"g"},{"x":960,"v":18000,"c":"b"},{"x":962,"v":37000,"c":"g"},{"x":964,"v":60000,"c":"g"},{"x":966,"v":24000,"c":"b"},{"x":968,"v":19000,"c":"g"},{"x":970,"v":20000,"c":"g"},{"x":972,"v":22000,"c":"g"},{"x":974,"v":40000,"c":"g"},{"x":976,"v":32000,"c":"b"},{"x":978,"v":31000,"c":"g"},{"x":980,"v":26000,"c":"b"},{"x":982,"v":19000,"c":"g"},{"x":984,"v":20000,"c":"b"},{"x":986,"v":17000,"c":"b"},{"x":988,"v":21000,"c":"b"},{"x":990,"v":15000,"c":"b"},{"x":992,"v":10000,"c":"b"},{"x":994,"v":27000,"c":"b"},{"x":996,"v":8000,"c":"g"},{"x":998,"v":6000,"c":"b"},{"x":1001,"v":4000,"c":"g"},{"x":1004,"v":1500,"c":"g"},{"x":1006,"v":13000,"c":"g"},{"x":1009,"v":25000,"c":"b"},{"x":1011,"v":41000,"c":"b"},{"x":1013,"v":54000,"c":"b"},{"x":1016,"v":30000,"c":"g"},{"x":1018,"v":39000,"c":"b"},{"x":1020,"v":36000,"c":"b"},{"x":1022,"v":33000,"c":"g"},{"x":1024,"v":20000,"c":"g"},{"x":1027,"v":14000,"c":"b"},{"x":1029,"v":15000,"c":"g"},{"x":1031,"v":51000,"c":"b"},{"x":1034,"v":29000,"c":"g"},{"x":1036,"v":31000,"c":"b"},{"x":1038,"v":41000,"c":"g"},{"x":1040,"v":25000,"c":"b"},{"x":1043,"v":13000,"c":"g"},{"x":1045,"v":18000,"c":"b"},{"x":1047,"v":12000,"c":"b"},{"x":1050,"v":8000,"c":"b"},{"x":1053,"v":2000,"c":"g"},{"x":1056,"v":2000,"c":"g"},{"x":1059,"v":2000,"c":"b"},{"x":1062,"v":22000,"c":"g"},{"x":1064,"v":17000,"c":"b"},{"x":1067,"v":26000,"c":"g"},{"x":1069,"v":26000,"c":"g"},{"x":1071,"v":35000,"c":"g"},{"x":1073,"v":27000,"c":"g"},{"x":1075,"v":17000,"c":"b"},{"x":1077,"v":24000,"c":"b"},{"x":1079,"v":13000,"c":"g"},{"x":1082,"v":15000,"c":"g"},{"x":1084,"v":48000,"c":"g"},{"x":1086,"v":60000,"c":"b"},{"x":1088,"v":20000,"c":"b"},{"x":1091,"v":36000,"c":"b"},{"x":1093,"v":22000,"c":"g"},{"x":1096,"v":29000,"c":"g"},{"x":1098,"v":17000,"c":"b"},{"x":1101,"v":9000,"c":"g"},{"x":1104,"v":4000,"c":"b"},{"x":1107,"v":2000,"c":"g"},{"x":1110,"v":1000,"c":"g"},{"x":1117,"v":2000,"c":"b"}
]
},
"layer":[
{"layer":[
{"data":{"name":"poc"},"mark":{"type":"rule","color":"#ff4500","strokeWidth":4},
"encoding":{"x":{"field":"s","type":"quantitative","title":null,"scale":{"domain":[2.5,1212.5],"nice":false,"zero":false,"padding":0},
"axis":{"orient":"bottom","offset":-23.5,"domain":false,"grid":false,"title":null,"tickColor":"#000080","tickSize":4,"labelColor":"#000080","labelFont":"Liberation Sans","labelFontSize":12,"labelPadding":5,"labelOverlap":false,"labelBound":false,"labelFlush":false,
"values":[11.5,66,122.5,178,234,290.5,346,389.5,445.5,501,557,613,669.5,725.5,781.5,837.5,894,950,1006,1061,1117.5,1152],
"labelExpr":"{'11.5':':15','66':'12-18','122.5':'12-19','178':'12-20','234':'12-21','290.5':'12-27','346':'12-28','389.5':'1-2','445.5':'1-3','501':'1-4','557':'1-7','613':'1-8','669.5':'1-9','725.5':'1-10','781.5':'1-11','837.5':'1-14','894':'1-15','950':'1-16','1006':'1-17','1061':'1-18','1117.5':'1-21','1152':'16:45'}[datum.value]"}},
"x2":{"field":"e"},
"y":{"field":"p","type":"quantitative","title":null,"scale":{"domain":[141.0388,146.0227],"nice":false,"zero":false},
"axis":{"orient":"right","offset":-52.5,"domain":false,"grid":false,"title":null,"tickColor":"#000080","tickSize":4,"labelColor":"#000080","labelFont":"Liberation Sans","labelFontSize":12,"labelPadding":2,"labelOverlap":false,"labelBound":false,"labelFlush":false,"format":".2f",
"values":[142,142.2,142.4,142.6,142.8,143,143.2,143.4,143.6,143.8,144,144.2,144.4,144.6,144.8,145,145.2,145.4,145.6,145.8]}}}},
{"data":{"name":"profile"},"mark":{"type":"rule","color":"#000060","strokeWidth":4},
"encoding":{"x":{"field":"s","type":"quantitative"},"x2":{"field":"e"},"y":{"field":"p","type":"quantitative"}}},
{"data":{"name":"price"},"mark":{"type":"line","color":"#0000a0","strokeWidth":1},
"encoding":{"x":{"field":"x","type":"quantitative"},"y":{"field":"h","type":"quantitative"},"detail":{"field":"s","type":"nominal"}}},
{"data":{"name":"price"},"mark":{"type":"rule","strokeWidth":2.5},
"encoding":{"x":{"field":"x","type":"quantitative"},"y":{"field":"h","type":"quantitative"},"y2":{"field":"l"},
"color":{"field":"c","type":"nominal","legend":null,"scale":{"domain":["b","g"],"range":["#0000a0","#00a550"]}}}},
{"data":{"values":[{}]},"mark":{"type":"rule","color":"#808080","strokeDash":[1,2],"strokeWidth":1},
"encoding":{"x":{"datum":389.5,"type":"quantitative"},"y":{"datum":145.9,"type":"quantitative"},"y2":{"datum":141.974}}},
{"data":{"values":[{}]},"mark":{"type":"rule","color":"#808080","strokeDash":[1,2],"strokeWidth":1},
"encoding":{"x":{"datum":389.5,"type":"quantitative"},"y":{"datum":141.883,"type":"quantitative"},"y2":{"datum":141.405}}},
{"data":{"values":[{}]},"mark":{"type":"rule","color":"#000080","strokeWidth":1.5},
"encoding":{"x":{"datum":6.5,"type":"quantitative"},"y":{"datum":146.0,"type":"quantitative"},"y2":{"datum":141.19}}},
{"data":{"values":[{}]},"mark":{"type":"rule","color":"#000080","strokeWidth":1.5},
"encoding":{"x":{"datum":1160,"type":"quantitative"},"y":{"datum":146.0,"type":"quantitative"},"y2":{"datum":141.19}}},
{"data":{"values":[{}]},"mark":{"type":"rule","color":"#000080","strokeWidth":1.5},
"encoding":{"x":{"datum":6.5,"type":"quantitative"},"x2":{"datum":1160},"y":{"datum":141.19,"type":"quantitative"}}},
{"data":{"name":"oddTicks"},"mark":{"type":"rule","color":"#000080","strokeWidth":1},
"encoding":{"x":{"datum":1160,"type":"quantitative"},"x2":{"datum":1164},"y":{"field":"p","type":"quantitative"}}},
{"data":{"name":"oddTicks"},"mark":{"type":"text","align":"left","baseline":"middle","color":"#000080","font":"Liberation Sans","fontSize":12},
"encoding":{"x":{"datum":1166,"type":"quantitative"},"y":{"field":"p","type":"quantitative"},"text":{"field":"p","type":"quantitative","format":".2f"}}},
{"data":{"values":[{}]},"mark":{"type":"text","align":"left","baseline":"middle","color":"#000080","text":"BDH13\u00a0\u00a015 min\u00a0\u00a0\u00a0\u00a0#10 21:59:59\u00a0H:143.30\u00a0L:143.24\u00a0O:143.30\u00a0\u00a0VbP 280 Bars:"},
"encoding":{"x":{"datum":12,"type":"quantitative"},"y":{"datum":145.95,"type":"quantitative"}}},
{"data":{"values":[{}]},"mark":{"type":"text","align":"left","baseline":"middle","color":"#ff5a1f","text":"Point of Control: 142.87"},
"encoding":{"x":{"datum":424,"type":"quantitative"},"y":{"datum":145.95,"type":"quantitative"}}},
{"data":{"values":[{}]},"mark":{"type":"text","align":"left","baseline":"middle","color":"#000080","text":"Volume:\u00a0\u00a0\u00a0Volume: 1529"},
"encoding":{"x":{"datum":12,"type":"quantitative"},"y":{"datum":141.93,"type":"quantitative"}}},
{"data":{"values":[{}]},"mark":{"type":"text","align":"center","baseline":"middle","color":"#000000","fontSize":13,"text":"21:58:38 20.01.2013"},
"encoding":{"x":{"datum":606,"type":"quantitative"},"y":{"datum":140.919,"type":"quantitative"}}},
{"data":{"values":[{}]},"mark":{"type":"rect","color":"#000060"},
"encoding":{"x":{"datum":1163,"type":"quantitative"},"x2":{"datum":1204},"y":{"datum":143.307,"type":"quantitative"},"y2":{"datum":143.21}}},
{"data":{"values":[{}]},"mark":{"type":"text","align":"center","baseline":"middle","color":"#ffffff","fontSize":13,"fontWeight":"bold","text":"143.25"},
"encoding":{"x":{"datum":1183.5,"type":"quantitative"},"y":{"datum":143.258,"type":"quantitative"}}},
{"data":{"values":[{}]},"mark":{"type":"rect","color":"#00c000"},
"encoding":{"x":{"datum":1194,"type":"quantitative"},"x2":{"datum":1207},"y":{"datum":141.165,"type":"quantitative"},"y2":{"datum":141.081}}},
{"data":{"values":[{}]},"mark":{"type":"text","align":"center","baseline":"middle","color":"#004000","text":"0"},
"encoding":{"x":{"datum":1200.5,"type":"quantitative"},"y":{"datum":141.123,"type":"quantitative"}}},
{"data":{"values":[{}]},"mark":{"type":"point","shape":"M-0.3,-0.5 L-0.3,0.3 L-0.1,0.15 L0.05,0.5 L0.2,0.42 L0.03,0.1 L0.3,0.1 Z","size":1300,"filled":true,"fill":"#f1f1f1","stroke":"#333333","strokeWidth":1,"opacity":1},
"encoding":{"x":{"datum":164,"type":"quantitative"},"y":{"datum":142.64,"type":"quantitative"}}}
]},
{"data":{"name":"volume"},"mark":{"type":"bar","width":3},
"encoding":{"x":{"field":"x","type":"quantitative"},
"y":{"field":"v","type":"quantitative","title":null,"scale":{"domain":[-17905,568762],"nice":false,"zero":false},
"axis":{"orient":"right","offset":-52.5,"domain":false,"grid":false,"title":null,"tickColor":"#000080","tickSize":4,"labelColor":"#000080","labelFont":"Liberation Sans","labelFontSize":12,"labelPadding":2,"labelOverlap":false,"labelBound":false,"labelFlush":false,"values":[20000,40000,60000,80000],"format":"d"}},
"color":{"field":"c","type":"nominal","legend":null,"scale":{"domain":["b","g"],"range":["#0000a0","#00a550"]}}}}
],
"resolve":{"scale":{"y":"independent"},"axis":{"y":"independent"}}
}
